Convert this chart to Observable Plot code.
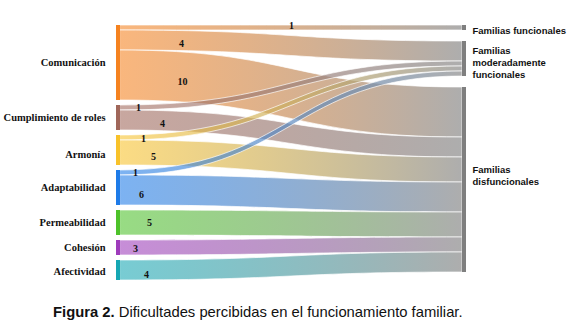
<!DOCTYPE html>
<html>
<head>
<meta charset="utf-8">
<script src="https://cdn.jsdelivr.net/npm/d3@7"></script>
<script src="https://cdn.jsdelivr.net/npm/@observablehq/plot@0.6"></script>
<style>
  body { margin: 0; background: #fff; }
  #caption { font-family: "Liberation Sans", Arial, sans-serif; font-size: 14.8px; color: #111; line-height: 28px; padding-left: 53px; white-space: nowrap; }
</style>
</head>
<body>
<div id="chart"></div>
<div id="caption"><b>Figura 2.</b> Dificultades percibidas en el funcionamiento familiar.</div>
<script>
// ---- data ----
const sources = ["Comunicación", "Cumplimiento de roles", "Armonía", "Adaptabilidad", "Permeabilidad", "Cohesión", "Afectividad"];
const targets = ["Familias funcionales", "Familias\nmoderadamente\nfuncionales", "Familias\ndisfuncionales"];
const linkSource = [0, 0, 0, 1, 1, 2, 2, 3, 3, 4, 5, 6];
const linkTarget = [0, 1, 2, 1, 2, 1, 2, 1, 2, 2, 2, 2];
const linkValue  = [1, 4, 10, 1, 4, 1, 5, 1, 6, 5, 3, 4];

// ---- style / layout ----
const sourceColors = ["#f5821f", "#a0675a", "#f8c22a", "#1e7be8", "#4dc22a", "#9e3bbb", "#16a7b3"];
const targetColor = "#7f7f7f";
const X0 = 120, X1 = 462;          // ribbon pixel extent
const leftGap = 1, rightGap = 2.2; // gaps in value units
const labelPx = [291, 181, 182, 138, 162, 143, 153, 135, 141, 149, 135, 146];
const labelDy = [-2.5, 3, 4, 0, 3, 1, 4, 0, 4, 0, 1, 4];
const sourceDy = [0, 0, 4, 0, 0, 0, 1];
const targetDy = [2, 3, -5];
const barW = 4;

// ---- sankey layout (computed from the values) ----
const nS = sources.length;
const sVal = sources.map((_, i) => d3.sum(linkValue.filter((v, k) => linkSource[k] === i)));
const tVal = targets.map((_, j) => d3.sum(linkValue.filter((v, k) => linkTarget[k] === j)));
const sY = []; let acc = 0;
sVal.forEach((v) => { sY.push([acc, acc + v]); acc += v + leftGap; });
const yMax = acc - leftGap;
const tY = []; acc = 0;
tVal.forEach((v) => { tY.push([acc, acc + v]); acc += v + rightGap; });

const sOff = sY.map(d => d[0]);
const tOff = tY.map(d => d[0]);
const links = linkValue.map((v, k) => {
  const s = linkSource[k], t = linkTarget[k];
  const a = sOff[s]; sOff[s] += v;
  return { k, s, t, v, sy0: a, sy1: a + v };
});
[...links].sort((a, b) => a.s - b.s).forEach(l => {
  const a = tOff[l.t]; tOff[l.t] += l.v; l.ty0 = a; l.ty1 = a + l.v;
});

const pts = links.flatMap(l => [
  { id: l.k, s: l.s, x: 0, y1: l.sy0, y2: l.sy1 },
  { id: l.k, s: l.s, x: 1, y1: l.ty0, y2: l.ty1 }
]);

const span = X1 - X0;
const bw = barW / span;
const pxPerUnit = 255 / yMax;

function bumpY(u, y0, y1) {
  let lo = 0, hi = 1;
  for (let i = 0; i < 40; i++) {
    const m = (lo + hi) / 2;
    const xm = 1.5 * m * (1 - m) + m * m * m;
    if (xm < u) lo = m; else hi = m;
  }
  const s = (lo + hi) / 2;
  return y0 + (y1 - y0) * (3 * s * s - 2 * s * s * s);
}
const valueLabels = links.map(l => {
  const u = (labelPx[l.k] - X0) / span;
  const yc = bumpY(u, (l.sy0 + l.sy1) / 2, (l.ty0 + l.ty1) / 2) + labelDy[l.k] / pxPerUnit;
  return { x: u, y: yc, text: String(l.v) };
});

const sNodes = sources.map((name, i) => ({ name, i, y1: sY[i][0], y2: sY[i][1], yc: (sY[i][0] + sY[i][1]) / 2 + sourceDy[i] / pxPerUnit }));
const tNodes = targets.map((name, j) => ({ name, j, y1: tY[j][0], y2: tY[j][1], yc: (tY[j][0] + tY[j][1]) / 2 + targetDy[j] / pxPerUnit }));

// placeholder fills, replaced by gradients after rendering
const placeholder = (s) => "#0000" + String(s + 1).padStart(2, "0");

const marks = [];
for (let s = 0; s < nS; s++) {
  marks.push(Plot.area(pts.filter(p => p.s === s), {
    x1: "x", y1: "y1", y2: "y2", z: "id",
    curve: "bump-x", fill: placeholder(s), stroke: "white", strokeWidth: 0.8, strokeOpacity: 0.85
  }));
}
marks.push(
  Plot.rect(sNodes, { x1: -bw, x2: 0, y1: "y1", y2: "y2", fill: (d) => sourceColors[d.i] }),
  Plot.rect(tNodes, { x1: 1, x2: 1 + bw, y1: "y1", y2: "y2", fill: targetColor }),
  Plot.text(sNodes, { x: (105 - X0) / span, y: "yc", text: "name", textAnchor: "end",
    fontFamily: "'Liberation Serif', 'Times New Roman', serif", fontWeight: "bold", fontSize: 10.5, fill: "#111" }),
  Plot.text(tNodes, { x: (472 - X0) / span, y: "yc", text: "name", textAnchor: "start", lineHeight: 1.3,
    fontFamily: "'Liberation Sans', Arial, sans-serif", fontWeight: "bold", fontSize: 9.5, fill: "#111" }),
  Plot.text(valueLabels, { x: "x", y: "y", text: "text",
    fontFamily: "'Liberation Serif', 'Times New Roman', serif", fontWeight: "bold", fontSize: 10, fill: "#111" })
);

const chart = Plot.plot({
  width: 577, height: 298,
  margin: 0,
  x: { domain: [0, 1], range: [X0, X1], axis: null },
  y: { domain: [0, yMax], range: [25, 280], axis: null },
  marks
});

// gradients for the ribbons: source colour -> grey
const svg = d3.select(chart);
const defs = svg.insert("defs", ":first-child");
sourceColors.forEach((c, s) => {
  const g = defs.append("linearGradient").attr("id", "lg" + s)
    .attr("gradientUnits", "userSpaceOnUse")
    .attr("x1", X0).attr("x2", X1).attr("y1", 0).attr("y2", 0);
  g.append("stop").attr("offset", "0%").attr("stop-color", c).attr("stop-opacity", 0.58);
  g.append("stop").attr("offset", "100%").attr("stop-color", "#999999").attr("stop-opacity", 0.8);
  const ph = placeholder(s);
  svg.selectAll("[fill]").filter(function () { return this.getAttribute("fill").toLowerCase() === ph; })
    .attr("fill", `url(#lg${s})`);
});

document.getElementById("chart").appendChild(chart);
</script>
</body>
</html>
